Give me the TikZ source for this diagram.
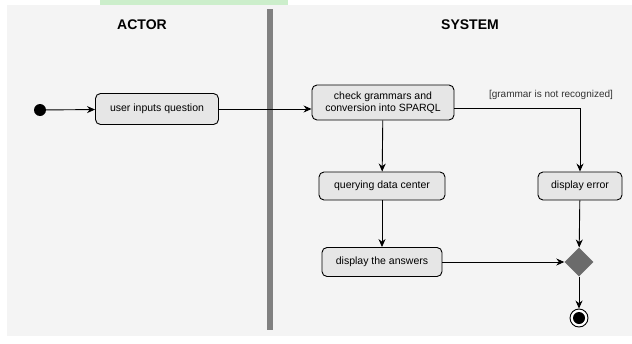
\documentclass[tikz,border=0pt]{standalone}
\usepackage{fontspec}
\setmainfont{Liberation Sans}
\usepackage{tikz}
\usetikzlibrary{shapes.geometric, arrows.meta}

\definecolor{bggray}{HTML}{F4F4F4}
\definecolor{boxgray}{HTML}{E6E6E6}
\definecolor{lanegray}{HTML}{808080}
\definecolor{diagray}{HTML}{6B6B6B}
\definecolor{hlgreen}{HTML}{CCEECB}

\begin{document}
\begin{tikzpicture}[x=1pt,y=-1pt]
                \tikzstyle{every node}+=[inner sep=0pt]
                \tikzstyle{act}=[draw=black, fill=boxgray, rounded corners=5pt, line width=0.9pt, font=\fontsize{10.5}{12.5}\selectfont, align=center]
                \tikzstyle{lane}=[font=\bfseries\fontsize{14}{16}\selectfont]
                \tikzstyle{flow}=[draw=black, line width=0.9pt, -{Stealth[length=8pt,width=7pt]}]
                \useasboundingbox (0,0) rectangle (632,343);
                \fill [white] (0,0) rectangle (632,343);
                \fill [bggray] (7,5) rectangle (632,336);
                \fill [hlgreen] (100,0) rectangle (288,5);
                \fill [lanegray] (267,9) rectangle (273,330);
                \node [lane] (actor) at (142,25) {ACTOR};
                \node [lane] (system) at (470,25) {SYSTEM};
                \node [circle, fill=black, minimum size=12pt] (start) at (40,110) {};
                \node [act, minimum width=123pt, minimum height=31pt] (inputs) at (157,109) {user inputs question};
                \node [act, minimum width=142pt, minimum height=35pt] (check) at (383,102.5) {check grammars and\\conversion into SPARQL};
                \node [act, minimum width=126pt, minimum height=28pt] (query) at (382,186) {querying data center};
                \node [act, minimum width=84pt, minimum height=28pt] (error) at (580,186) {display error};
                \node [act, minimum width=120pt, minimum height=29pt] (answers) at (382,262) {display the answers};
                \node [diamond, fill=diagray, minimum width=29pt, minimum height=29pt] (merge) at (579,262) {};
                \node [circle, draw=black, fill=white, line width=0.9pt, minimum size=18pt] (final) at (579,318) {};
                \fill [black] (final) circle (6);
                \node [font=\fontsize{10}{12}\selectfont, text=black!80] (guard) at (551,95) {[grammar is not recognized]};
                \draw [flow] (start) -- (inputs);
                \draw [flow] (inputs.east) -- (inputs.east -| check.west);
                \draw [flow] ([yshift=-5.5pt]check.east) -| (error.north);
                \draw [flow] (check) -- (query);
                \draw [flow] (query) -- (answers);
                \draw [flow] (answers) -- (merge);
                \draw [flow] (error) -- (merge);
                \draw [flow] (merge) -- (final);
\end{tikzpicture}
\end{document}
